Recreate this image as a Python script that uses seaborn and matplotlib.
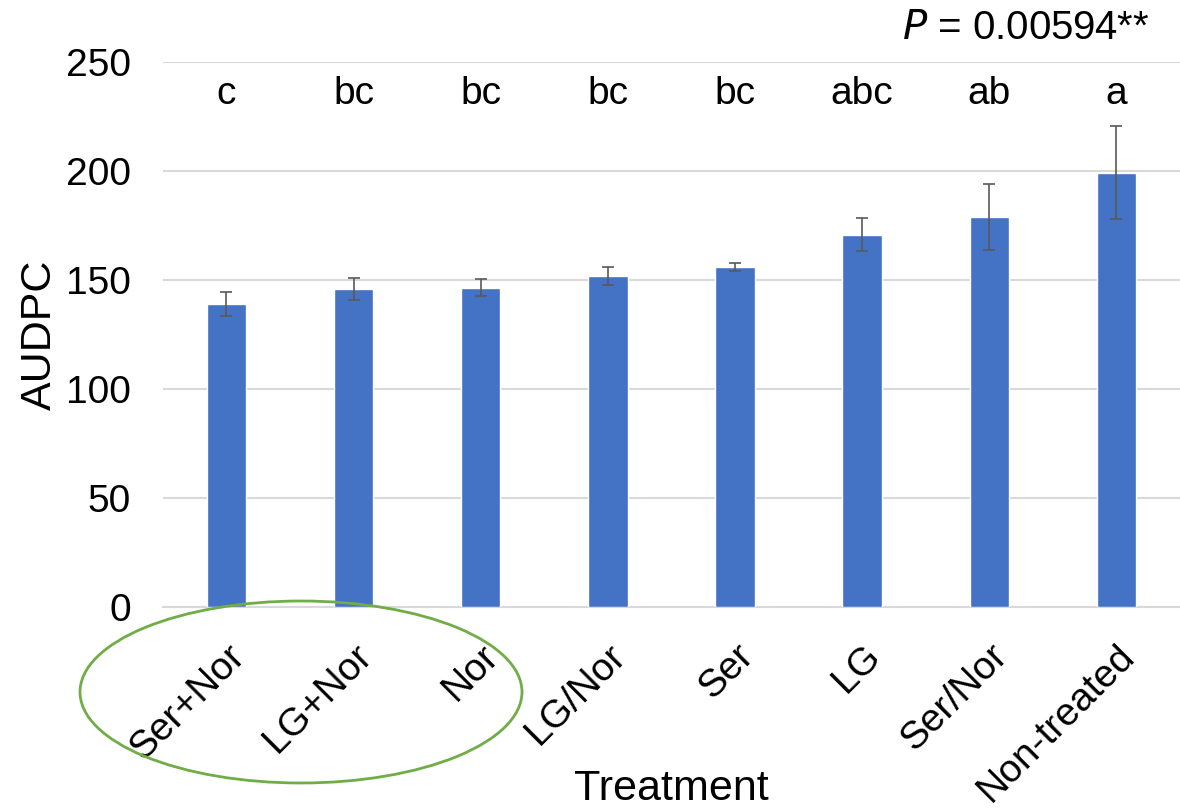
import matplotlib
matplotlib.use("Agg")
import matplotlib.pyplot as plt
from matplotlib.patches import Ellipse
import numpy as np
import pandas as pd
import seaborn as sns

treatments = ["Ser+Nor", "LG+Nor", "Nor", "LG/Nor", "Ser", "LG", "Ser/Nor", "Non-treated"]
audpc = [139.0, 145.8, 146.5, 151.8, 156.0, 170.8, 178.8, 199.2]
err = [5.5, 4.9, 4.0, 4.1, 2.0, 7.5, 15.2, 21.2]
letters = ["c", "bc", "bc", "bc", "bc", "abc", "ab", "a"]

df = pd.DataFrame({"Treatment": treatments, "AUDPC": audpc})

sns.set_style("white")
plt.rcParams["font.family"] = ["Liberation Sans", "DejaVu Sans"]
plt.rcParams["text.color"] = "black"
plt.rcParams["axes.labelcolor"] = "black"
plt.rcParams["xtick.color"] = "black"
plt.rcParams["ytick.color"] = "black"

fig = plt.figure(figsize=(11.8, 8.1), dpi=100)
ax = fig.add_axes([0.138, 0.2506, 0.862, 0.6729])

sns.barplot(data=df, x="Treatment", y="AUDPC", color="#4472C4", width=0.31,
            saturation=1, ax=ax, zorder=3)
ax.errorbar(np.arange(len(audpc)), audpc, yerr=err, fmt="none", ecolor="#595959",
            elinewidth=1.2, capsize=4.5, capthick=1.2, zorder=4)

ax.set_ylim(0, 250)
ax.set_xlim(-0.5, len(treatments) - 0.5)
ax.set_yticks(range(0, 251, 50))
ax.yaxis.grid(True, color="#D9D9D9", linewidth=1.5)
ax.set_axisbelow(True)
for s in ["top", "right", "left"]:
    ax.spines[s].set_visible(False)
ax.spines["bottom"].set_color("#D9D9D9")
ax.spines["bottom"].set_linewidth(1.5)
ax.tick_params(axis="both", length=0, labelsize=28)
ax.tick_params(axis="y", pad=23)
ax.tick_params(axis="x", pad=22)
plt.setp(ax.get_xticklabels(), rotation=45, ha="right", rotation_mode="anchor")

ax.set_ylabel("AUDPC", fontsize=31, labelpad=4)
ax.set_xlabel("Treatment", fontsize=31)
ax.xaxis.set_label_coords(0.5, -0.297)

for i, lab in enumerate(letters):
    ax.text(i, 235.5, lab, ha="center", va="center", fontsize=28, clip_on=False)

ax.text(7.26, 265.5, r"$\it{P}$ = 0.00594**", ha="right", va="center", fontsize=29,
        clip_on=False)

ell = Ellipse((301 / 1180, 1 - 692 / 810), 442 / 1180, 182 / 810,
              transform=fig.transFigure, fill=False, edgecolor="#70AD47", linewidth=2)
fig.add_artist(ell)

fig.savefig("out.png", dpi=100)
